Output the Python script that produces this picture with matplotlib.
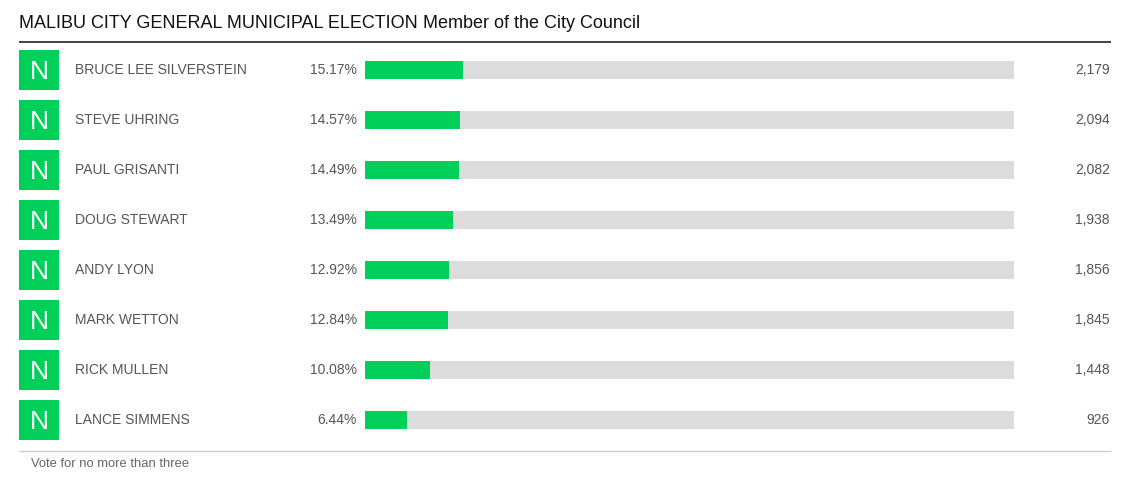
import matplotlib
matplotlib.use("Agg")
import matplotlib.pyplot as plt
from matplotlib.patches import Rectangle

candidates = ["BRUCE LEE SILVERSTEIN", "STEVE UHRING", "PAUL GRISANTI", "DOUG STEWART",
              "ANDY LYON", "MARK WETTON", "RICK MULLEN", "LANCE SIMMENS"]
percents = [15.17, 14.57, 14.49, 13.49, 12.92, 12.84, 10.08, 6.44]
votes = [2179, 2094, 2082, 1938, 1856, 1845, 1448, 926]
badges = ["N"] * 8
title_main = "MALIBU CITY GENERAL MUNICIPAL ELECTION"
title_sub = "Member of the City Council"
footer = "Vote for no more than three"

W, H = 1139, 482
GREEN = "#00d05a"
GRAY_BAR = "#dcdcdc"
TEXT_GRAY = "#555555"

plt.rcParams["font.family"] = ["Liberation Sans", "DejaVu Sans"]
fig = plt.figure(figsize=(W / 100, H / 100), dpi=100)

# overlay axes in pixel coordinates
ov = fig.add_axes([0, 0, 1, 1])
ov.set_xlim(0, W)
ov.set_ylim(H, 0)
ov.axis("off")

row0, step = 70, 50

# bar axes: index i -> pixel row0 + step*i
bx0, bx1 = 365, 1014
ax = fig.add_axes([bx0 / W, 0, (bx1 - bx0) / W, 1])
ax.set_xlim(0, 100)
ax.set_ylim((H - row0) / step, -row0 / step)
ax.axis("off")
idx = list(range(len(candidates)))
ax.barh(idx, [100] * len(idx), height=18 / step, color=GRAY_BAR, linewidth=0)
ax.barh(idx, percents, height=18 / step, color=GREEN, linewidth=0)

t = ov.text(19, 27.5, title_main + " ", fontsize=13.0, color="#111111", va="baseline", ha="left")
fig.canvas.draw()
bb = t.get_window_extent()
ov.text(19 + bb.width, 27.5, title_sub, fontsize=13.0, color="#111111", va="baseline", ha="left")
ov.plot([19, 1111], [41.5, 41.5], color="#111111", lw=1.1, solid_capstyle="butt")

for i, (name, p, v, b) in enumerate(zip(candidates, percents, votes, badges)):
    y = row0 + step * i
    ov.add_patch(Rectangle((19, y - 20), 40, 40, color=GREEN, lw=0))
    ov.text(39, y + 2, b, fontsize=19, color="white", ha="center", va="center")
    ov.text(75, y, name, fontsize=10, color=TEXT_GRAY, ha="left", va="center")
    ov.text(357, y, f"{p:.2f}%", fontsize=10, color=TEXT_GRAY, ha="right", va="center")
    ov.text(1110, y, f"{v:,}", fontsize=10, color=TEXT_GRAY, ha="right", va="center")

ov.plot([19, 1111], [450.5, 450.5], color="#cccccc", lw=1, solid_capstyle="butt")
ov.text(31, 464, footer, fontsize=9.4, color="#666666", ha="left", va="center")

fig.savefig("out.png", dpi=100)
